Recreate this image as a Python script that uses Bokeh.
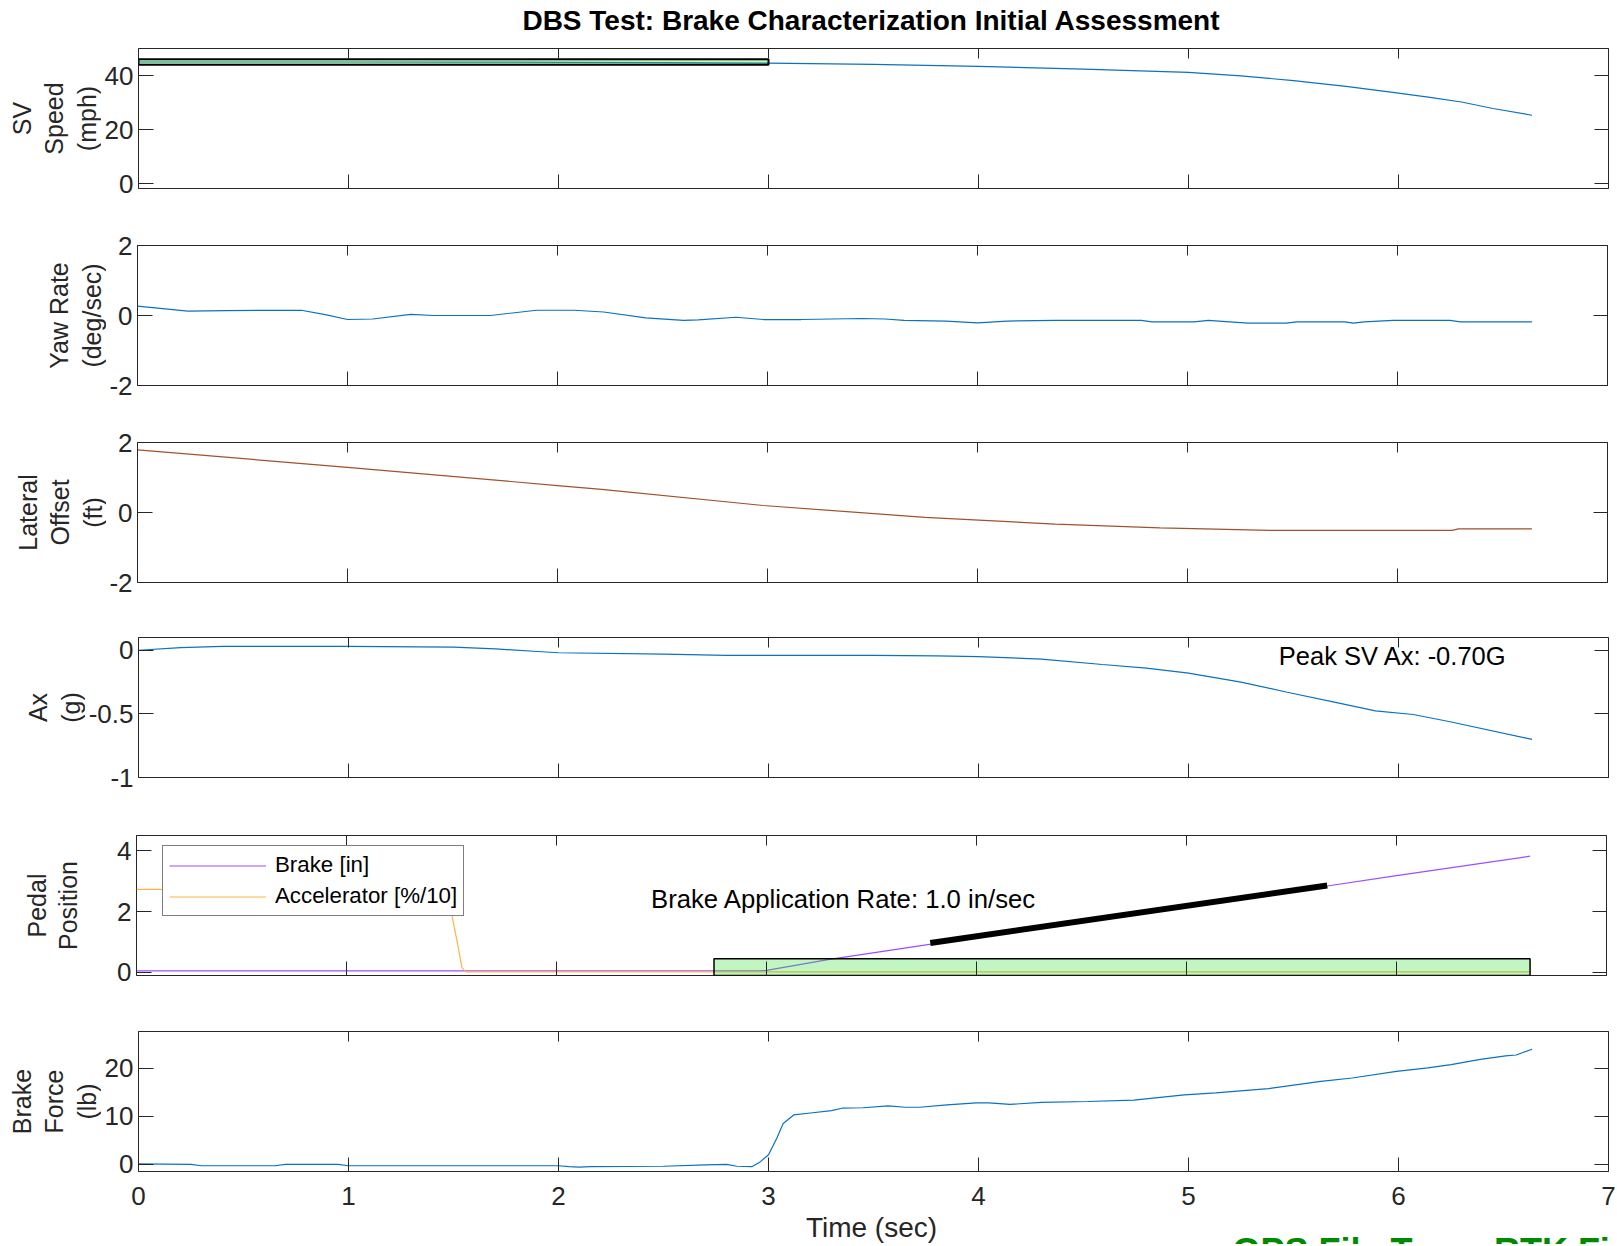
import numpy as np
from bokeh.plotting import figure
from bokeh.models import Range1d, LinearAxis, FixedTicker, Label, Legend, CustomJSTickFormatter
from bokeh.layouts import column, row
from bokeh.embed import file_html
from bokeh.resources import INLINE

FONT = "Liberation Sans"
INK = "#262626"
BLUE = "#0a72c0"

# ---------------- data ----------------
x_ticks = [0, 1, 2, 3, 4, 5, 6, 7]

speed_t = [0, 0.5, 1.0, 1.5, 2.0, 2.5, 3.0, 3.5, 4.0, 4.5, 5.0, 5.25, 5.5, 5.75, 6.0, 6.15, 6.3, 6.45, 6.636]
speed_v = [45.0, 45.0, 45.0, 44.95, 44.9, 44.8, 44.6, 44.1, 43.4, 42.4, 41.2, 39.9, 38.1, 36.0, 33.5, 31.9, 30.2, 27.8, 25.3]
speed_band = [0, 3, 44, 46]          # left, right, bottom, top

yaw_t = [0, 0.24, 0.42, 0.78, 0.9, 1.0, 1.12, 1.3, 1.41, 1.68, 1.9, 2.08, 2.22, 2.42, 2.6, 2.67, 2.85,
         2.98, 3.16, 3.45, 3.56, 3.65, 3.85, 4.0, 4.14, 4.37, 4.78, 4.83, 5.03, 5.10, 5.20, 5.29, 5.47,
         5.52, 5.75, 5.79, 5.84, 5.98, 6.25, 6.30, 6.64]
yaw_v = [0.27, 0.125, 0.14, 0.15, 0.02, -0.115, -0.1, 0.03, 0.0, 0.0, 0.15, 0.15, 0.1, -0.07, -0.14,
         -0.125, -0.05, -0.115, -0.115, -0.086, -0.1, -0.14, -0.16, -0.21, -0.16, -0.14, -0.14, -0.18,
         -0.18, -0.14, -0.18, -0.22, -0.22, -0.18, -0.18, -0.22, -0.18, -0.14, -0.14, -0.18, -0.18]

lat_t = [0, 1.0, 2.0, 2.21, 2.98, 3.75, 4.37, 4.87, 5.08, 5.39, 6.26, 6.29, 6.64]
lat_v = [1.79, 1.29, 0.77, 0.66, 0.2, -0.14, -0.33, -0.44, -0.47, -0.51, -0.51, -0.47, -0.47]

ax_t = [0, 0.2, 0.4, 1.0, 1.5, 1.7, 1.9, 2.0, 2.5, 2.8, 3.0, 3.5, 3.8, 4.0, 4.3, 4.59, 4.8, 5.0,
        5.25, 5.47, 5.7, 5.89, 6.07, 6.24, 6.636]
ax_v = [0.0, 0.02, 0.03, 0.03, 0.025, 0.01, -0.01, -0.02, -0.03, -0.04, -0.04, -0.04, -0.045, -0.05,
        -0.07, -0.112, -0.14, -0.18, -0.25, -0.33, -0.41, -0.476, -0.505, -0.56, -0.70]
peak_text = "Peak SV Ax: -0.70G"

brake_t = [0, 2.97, 3.0, 3.3, 3.8, 4.5, 5.0, 5.67, 6.0, 6.636]
brake_v = [0.05, 0.05, 0.07, 0.43, 0.95, 1.66, 2.17, 2.84, 3.18, 3.82]
acc_t = [0, 1.45, 1.48, 1.50, 1.53, 1.55, 1.57, 6.636]
acc_v = [2.73, 2.73, 2.4, 1.95, 0.9, 0.15, 0.02, 0.02]
rate_t = [3.78, 5.67]
rate_v = [0.97, 2.86]
brake_window = [2.75, 6.636, -0.1, 0.45]   # left, right, bottom, top
rate_text = "Brake Application Rate: 1.0 in/sec"

force_t = [0, 0.25, 0.3, 0.65, 0.7, 0.95, 1.0, 2.0, 2.05, 2.1, 2.15, 2.5, 2.7, 2.8, 2.85, 2.92, 2.96,
           3.0, 3.04, 3.07, 3.12, 3.2, 3.3, 3.35, 3.45, 3.57, 3.65, 3.72, 3.85, 3.99, 4.05, 4.15, 4.3,
           4.52, 4.74, 4.98, 5.13, 5.38, 5.63, 5.78, 5.99, 6.14, 6.25, 6.39, 6.51, 6.56, 6.636]
force_v = [0.1, 0.0, -0.3, -0.3, 0.0, 0.0, -0.3, -0.3, -0.5, -0.6, -0.5, -0.4, -0.1, 0.0, -0.4, -0.5,
           0.5, 2.0, 5.5, 8.5, 10.3, 10.7, 11.2, 11.7, 11.8, 12.2, 11.9, 11.9, 12.4, 12.8, 12.8, 12.5,
           12.9, 13.1, 13.4, 14.5, 14.9, 15.8, 17.3, 18.0, 19.4, 20.1, 20.8, 21.9, 22.6, 22.8, 24.0]

y_ticks = [[0, 20, 40], [-2, 0, 2], [-2, 0, 2], [-1, -0.5, 0], [0, 2, 4], [0, 10, 20]]
y_limits = [(-1.8, 50), (-2, 2), (-2, 2), (-1, 0.1), (-0.1, 4.5), (-1.5, 27.7)]
y_labels = [["SV", "Speed", "(mph)"], ["Yaw Rate", "(deg/sec)"], ["Lateral", "Offset", "(ft)"],
            ["Ax", "(g)"], ["Pedal", "Position"], ["Brake", "Force", "(lb)"]]
title_text = "DBS Test: Brake Characterization Initial Assessment"
x_label = "Time (sec)"
footer_text = "GPS File Type: RTK Fixed"

# ---------------- layout ----------------
FRAME_W, FRAME_H = 1470, 140
FRAME_LEFT = 136
RIGHT = 9
TOTAL_W = FRAME_LEFT + FRAME_W + RIGHT
borders = [(0, 40), (17, 40), (17, 38), (17, 40), (18, 38), (18, 42)]   # top, bottom
label_x = [[21, 53, 86], [58, 91], [27, 59, 92], [37, 70], [36, 67], [21, 53, 86]]
label_w = [101, 106, 106, 85, 100, 101]

x_range = Range1d(0, 7)
fmt = CustomJSTickFormatter(code="return String(tick)")


def blank(width, height):
    f = figure(width=width, height=height, x_range=Range1d(0, 1), y_range=Range1d(0, 1),
               min_border=0, x_axis_location=None, y_axis_location=None,
               output_backend="svg", toolbar_location=None)
    f.grid.visible = False
    f.outline_line_color = None
    return f


def make_axis(ticks, tick_in, labels, standoff=5):
    ax = LinearAxis(ticker=FixedTicker(ticks=ticks), formatter=fmt)
    ax.axis_line_color = None
    ax.major_tick_in = tick_in
    ax.major_tick_out = 0
    ax.major_tick_line_color = INK
    ax.major_tick_line_width = 1
    ax.minor_tick_line_color = None
    ax.major_label_text_font = FONT
    ax.major_label_text_color = INK
    ax.major_label_text_font_size = "26px" if labels else "0px"
    ax.major_label_standoff = standoff if labels else 0
    return ax


# title strip
title_fig = blank(TOTAL_W, 48)
title_fig.add_layout(Label(x=FRAME_LEFT + FRAME_W / 2, y=28.4, x_units="screen", y_units="screen",
                           text=title_text, text_align="center", text_baseline="middle",
                           text_font=FONT, text_font_size="28px", text_font_style="bold",
                           text_color="black"))

rows = []
figs = []
for i in range(6):
    top, bottom = borders[i]
    h = top + FRAME_H + bottom
    lw = label_w[i]
    p = figure(x_range=x_range, y_range=Range1d(*y_limits[i]),
               frame_width=FRAME_W, frame_height=FRAME_H,
               min_border_left=FRAME_LEFT - lw, min_border_right=RIGHT,
               min_border_top=top, min_border_bottom=bottom,
               x_axis_location=None, y_axis_location=None,
               output_backend="svg", toolbar_location=None)
    p.grid.visible = False
    p.outline_line_color = INK
    p.outline_line_width = 1
    p.add_layout(make_axis(x_ticks, 14, i == 5, 15), "below")
    p.add_layout(make_axis(x_ticks, 10, False), "above")
    p.add_layout(make_axis(y_ticks[i], 15, True, 5), "left")
    p.add_layout(make_axis(y_ticks[i], 14, False), "right")

    # label strip (its frame is aligned with the panel frame by the row layout)
    lf = blank(lw, h)
    for txt, lx in zip(y_labels[i], label_x[i]):
        lf.add_layout(Label(x=lx, y=FRAME_H / 2, x_units="screen", y_units="screen",
                            text=txt, angle=np.pi / 2, text_align="center", text_baseline="middle",
                            text_font=FONT, text_font_size="25px", text_color=INK))
    figs.append(p)
    rows.append(row(lf, p, spacing=0))

p1, p2, p3, p4, p5, p6 = figs

# panel 1 : speed
p1.line(speed_t, speed_v, line_color=BLUE, line_width=1.2)
p1.quad(left=[speed_band[0]], right=[speed_band[1]], bottom=[speed_band[2]], top=[speed_band[3]],
        fill_color="#33dd33", fill_alpha=0.3, line_color="black", line_width=2)

# panel 2 : yaw rate
p2.line(yaw_t, yaw_v, line_color=BLUE, line_width=1.2)

# panel 3 : lateral offset
p3.line(lat_t, lat_v, line_color="#a0522d", line_width=1.2)

# panel 4 : Ax
p4.line(ax_t, ax_v, line_color=BLUE, line_width=1.2)
p4.add_layout(Label(x=5.43, y=-0.045, text=peak_text, text_align="left", text_baseline="middle",
                    text_font=FONT, text_font_size="25.5px", text_color="black"))

# panel 5 : pedal position
r_b = p5.line(brake_t, brake_v, line_color="#9d4cff", line_width=1.2)
r_a = p5.line(acc_t, acc_v, line_color="#ffb347", line_width=1.2)
p5.quad(left=[brake_window[0]], right=[brake_window[1]], bottom=[brake_window[2]], top=[brake_window[3]],
        fill_color="#33dd33", fill_alpha=0.3, line_color="black", line_width=1.5)
p5.line(rate_t, rate_v, line_color="black", line_width=6)
p5.add_layout(Label(x=2.45, y=2.43, text=rate_text, text_align="left", text_baseline="middle",
                    text_font=FONT, text_font_size="25.7px", text_color="black"))
legend = Legend(items=[("Brake [in]", [r_b]), ("Accelerator [%/10]", [r_a])],
                location=(26, 59), padding=6, spacing=5, margin=0,
                glyph_width=97, glyph_height=25, label_height=25, label_standoff=9,
                label_text_font=FONT, label_text_font_size="22.3px", label_text_color="black",
                border_line_color="black", border_line_width=1,
                background_fill_color="white", background_fill_alpha=1)
p5.add_layout(legend)

# panel 6 : brake force
p6.line(force_t, force_v, line_color=BLUE, line_width=1.2)

# bottom strip : x label and (partly visible) footer
bottom_fig = blank(TOTAL_W, 31)
bottom_fig.add_layout(Label(x=FRAME_LEFT + FRAME_W / 2, y=17, x_units="screen", y_units="screen",
                            text=x_label, text_align="center", text_baseline="middle",
                            text_font=FONT, text_font_size="28px", text_color=INK))
bottom_fig.add_layout(Label(x=1232, y=14, x_units="screen", y_units="screen",
                            text=footer_text, text_align="left", text_baseline="top",
                            text_font=FONT, text_font_size="36px", text_font_style="bold",
                            text_color="#008a00"))

layout = column(title_fig, *rows, bottom_fig, spacing=0)
open("out.html", "w").write(file_html(layout, INLINE))
